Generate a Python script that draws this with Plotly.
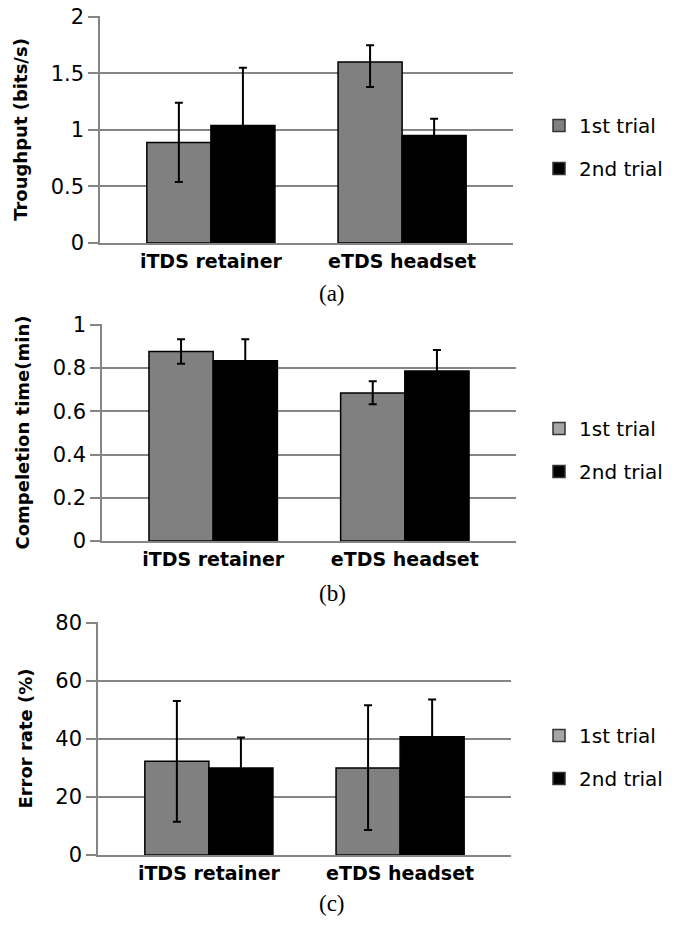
import plotly.graph_objects as go

categories = ["iTDS retainer", "eTDS headset"]
series_names = ["1st trial", "2nd trial"]

# (a) Throughput (bits/s)
thr_1 = [0.89, 1.60]
thr_1_up = [0.35, 0.15]
thr_1_dn = [0.35, 0.22]
thr_2 = [1.04, 0.95]
thr_2_up = [0.51, 0.15]
thr_2_dn = [0.51, 0.15]

# (b) Completion time (min)
time_1 = [0.877, 0.685]
time_1_up = [0.057, 0.054]
time_1_dn = [0.057, 0.052]
time_2 = [0.834, 0.787]
time_2_up = [0.100, 0.097]
time_2_dn = [0.100, 0.097]

# (c) Error rate (%)
err_1 = [32.3, 30.0]
err_1_up = [20.8, 21.6]
err_1_dn = [20.8, 21.4]
err_2 = [30.0, 40.8]
err_2_up = [10.5, 12.8]
err_2_dn = [10.5, 12.8]

y_titles = ["Troughput (bits/s)", "Compeletion time(min)", "Error rate (%)"]
captions = ["(a)", "(b)", "(c)"]
y_max = [2, 1, 80]
y_dticks = [0.5, 0.2, 20]

W, H = 675, 925
OFF = 0  # body margin removed below
GRAY = "#858585"
C1 = "#808080"
C2 = "#000000"
LEG1 = ["#808080", "#a6a6a6", "#a6a6a6"]

# pixel geometry of each panel: (left, right, top, bottom)
panels = [(100, 513, 16, 243), (102, 516, 324, 541), (98, 511, 622, 855)]
legend_tops = [106, 409, 716]
caption_y = [293, 593, 903]


def px(v):
    return (v - OFF) / W


def py(v):
    return 1 - (v - OFF) / H


data = [
    (thr_1, thr_1_up, thr_1_dn, thr_2, thr_2_up, thr_2_dn),
    (time_1, time_1_up, time_1_dn, time_2, time_2_up, time_2_dn),
    (err_1, err_1_up, err_1_dn, err_2, err_2_up, err_2_dn),
]

fig = go.Figure()
layout = {}
annotations = []

for i, (v1, u1, d1, v2, u2, d2) in enumerate(data):
    n = "" if i == 0 else str(i + 1)
    xa, ya = "x" + n, "y" + n
    leg = "legend" + n
    for k, (vals, up, dn, name, col) in enumerate([(v1, u1, d1, series_names[0], C1),
                                                   (v2, u2, d2, series_names[1], C2)]):
        fig.add_trace(go.Bar(
            x=categories, y=vals, name=name, xaxis=xa, yaxis=ya, offsetgroup=str(k),
            marker=dict(color=col, line=dict(color="#000000", width=1.5)),
            error_y=dict(type="data", array=up, arrayminus=dn, symmetric=False,
                         color="#000000", thickness=2, width=4),
            showlegend=False,
        ))
    # legend entries
    for k, (name, col) in enumerate([(series_names[0], LEG1[i]), (series_names[1], C2)]):
        fig.add_trace(go.Bar(
            x=[categories[0]], y=[None], name=name, xaxis=xa, yaxis=ya, offsetgroup=str(k),
            marker=dict(color=col, line=dict(color="#333333", width=1.5)),
            legend=leg, legendgroup="g%d_%d" % (k, i), showlegend=True,
        ))
    l, r, t, b = panels[i]
    layout["xaxis" + n] = dict(
        domain=[px(l), px(r)], anchor=ya, range=[-0.58, 1.58], automargin=False,
        showline=True, linecolor=GRAY, linewidth=1.5, ticks="",
        showgrid=False, zeroline=False,
        tickfont=dict(family="DejaVu Sans", size=19, color="#000000", weight="bold"),
    )
    layout["yaxis" + n] = dict(
        domain=[py(b), py(t)], anchor=xa, range=[0, y_max[i] * 1.004], dtick=y_dticks[i],
        automargin=False, ticklabeloverflow="allow",
        showline=True, linecolor=GRAY, linewidth=1.5,
        showgrid=True, gridcolor=GRAY, gridwidth=1.5, zeroline=False,
        ticks="outside", ticklen=10, tickcolor=GRAY, tickwidth=1.5,
        tickfont=dict(family="DejaVu Sans", size=21, color="#000000"),
        title=dict(text=y_titles[i], standoff=18,
                   font=dict(family="DejaVu Sans", size=18, color="#000000", weight="bold")),
    )
    layout[leg] = dict(
        x=px(539), y=py(legend_tops[i]), xanchor="left", yanchor="top",
        font=dict(family="DejaVu Sans", size=20, color="#000000"),
        bgcolor="rgba(0,0,0,0)", tracegroupgap=14, itemclick=False,
    )
    annotations.append(dict(
        text=captions[i], x=px(332), y=py(caption_y[i]), xref="paper", yref="paper",
        xanchor="center", yanchor="middle", showarrow=False,
        font=dict(family="Liberation Serif", size=23, color="#000000"),
    ))

fig.update_layout(
    width=W, height=H, margin=dict(l=0, r=0, t=0, b=0),
    paper_bgcolor="#ffffff", plot_bgcolor="#ffffff",
    barmode="group", bargap=0.33, bargroupgap=0,
    annotations=annotations, **layout,
)

fig.write_html("out.html", config={"displayModeBar": False},
               post_script="document.body.style.margin='0';")
